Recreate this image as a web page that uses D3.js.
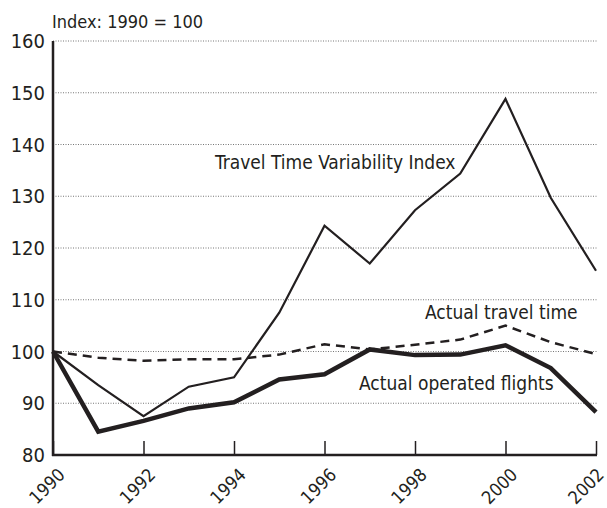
<!DOCTYPE html>
<html>
<head>
<meta charset="utf-8">
<script src="https://cdn.jsdelivr.net/npm/d3@7"></script>
<style>
    body { margin: 0; background: #fff; }
    svg text { font-family: "Liberation Sans Narrow", "DejaVu Sans Condensed", "Roboto", sans-serif; fill: #231f20; }
</style>
</head>
<body>
<svg id="chart" width="607" height="508"></svg>
<script>
// chart values
var years = [1990, 1991, 1992, 1993, 1994, 1995, 1996, 1997, 1998, 1999, 2000, 2001, 2002];
var variabilityIndex = [100, 93.5, 87.5, 93.2, 95, 107.5, 124.3, 117, 127.3, 134.4, 148.8, 129.7, 115.6];
var travelTime = [100, 98.8, 98.2, 98.5, 98.5, 99.4, 101.4, 100.4, 101.3, 102.3, 105, 101.8, 99.5];
var operatedFlights = [100, 84.5, 86.6, 89, 90.2, 94.6, 95.6, 100.4, 99.3, 99.4, 101.2, 96.8, 88.3];
var xTicks = [1990, 1992, 1994, 1996, 1998, 2000, 2002];
var yTicks = [80, 90, 100, 110, 120, 130, 140, 150, 160];

function drawChart() {
    'use strict';
    var svg = d3.select("#chart"),
        left = 53,
        right = 596,
        top = 41,
        bottom = 455,
        x = d3.scaleLinear().domain([1990, 2002]).range([left, right]),
        y = d3.scaleLinear().domain([80, 160]).range([bottom, top]),
        line = d3.line()
            .x(function (d) { return x(d[0]); })
            .y(function (d) { return y(d[1]); });

    // dotted gridlines
    svg.append("g")
        .selectAll("line")
        .data(yTicks.filter(function (v) { return v > 80; }))
        .enter()
        .append("line")
        .attr("x1", left)
        .attr("x2", 598)
        .attr("y1", function (d) { return y(d); })
        .attr("y2", function (d) { return y(d); })
        .attr("stroke", "#777")
        .attr("stroke-width", 1)
        .attr("stroke-dasharray", "1,1.5");

    // y tick labels
    svg.append("g")
        .selectAll("text")
        .data(yTicks)
        .enter()
        .append("text")
        .attr("x", 45)
        .attr("y", function (d) { return y(d) + 7; })
        .attr("text-anchor", "end")
        .style("font-size", "20px")
        .text(function (d) { return d; });

    // x axis with inward ticks
    var xAxis = d3.axisTop(x)
        .tickValues(xTicks)
        .tickSize(14)
        .tickFormat("");
    var gx = svg.append("g")
        .attr("transform", "translate(0," + bottom + ")")
        .call(xAxis);
    gx.select(".domain").remove();
    gx.selectAll(".tick line").attr("stroke", "#231f20").attr("stroke-width", 1.5);

    svg.append("g")
        .selectAll("text")
        .data(xTicks)
        .enter()
        .append("text")
        .attr("transform", function (d) {
            // keep the last label inside the picture
            var dx = d === 2002 ? 9 : 13;
            return "translate(" + (x(d) + dx) + "," + (bottom + 21) + ") rotate(-45)";
        })
        .attr("text-anchor", "end")
        .style("font-size", "18px")
        .text(function (d) { return d; });

    // axis lines
    svg.append("line")
        .attr("x1", left).attr("x2", left)
        .attr("y1", top).attr("y2", bottom + 1)
        .attr("stroke", "#231f20").attr("stroke-width", 2.5);
    svg.append("line")
        .attr("x1", left - 1).attr("x2", right + 1)
        .attr("y1", bottom).attr("y2", bottom)
        .attr("stroke", "#231f20").attr("stroke-width", 2.5);

    // series
    var series = [
        {values: travelTime, width: 2.5, dash: "9,6"},
        {values: variabilityIndex, width: 2.2, dash: null},
        {values: operatedFlights, width: 4.5, dash: null}
    ];
    series.forEach(function (s) {
        svg.append("path")
            .datum(years.map(function (yr, i) { return [yr, s.values[i]]; }))
            .attr("d", line)
            .attr("fill", "none")
            .attr("stroke", "#231f20")
            .attr("stroke-width", s.width)
            .attr("stroke-linejoin", "miter")
            .attr("stroke-dasharray", s.dash);
    });

    // labels
    svg.append("text").attr("x", 52).attr("y", 28).style("font-size", "18px").text("Index: 1990 = 100");
    svg.append("text").attr("x", 215).attr("y", 169).style("font-size", "19px").text("Travel Time Variability Index");
    svg.append("text").attr("x", 425).attr("y", 319).style("font-size", "19px").text("Actual travel time");
    svg.append("text").attr("x", 359).attr("y", 390).style("font-size", "19px").text("Actual operated flights");
}

drawChart();
</script>
</body>
</html>
